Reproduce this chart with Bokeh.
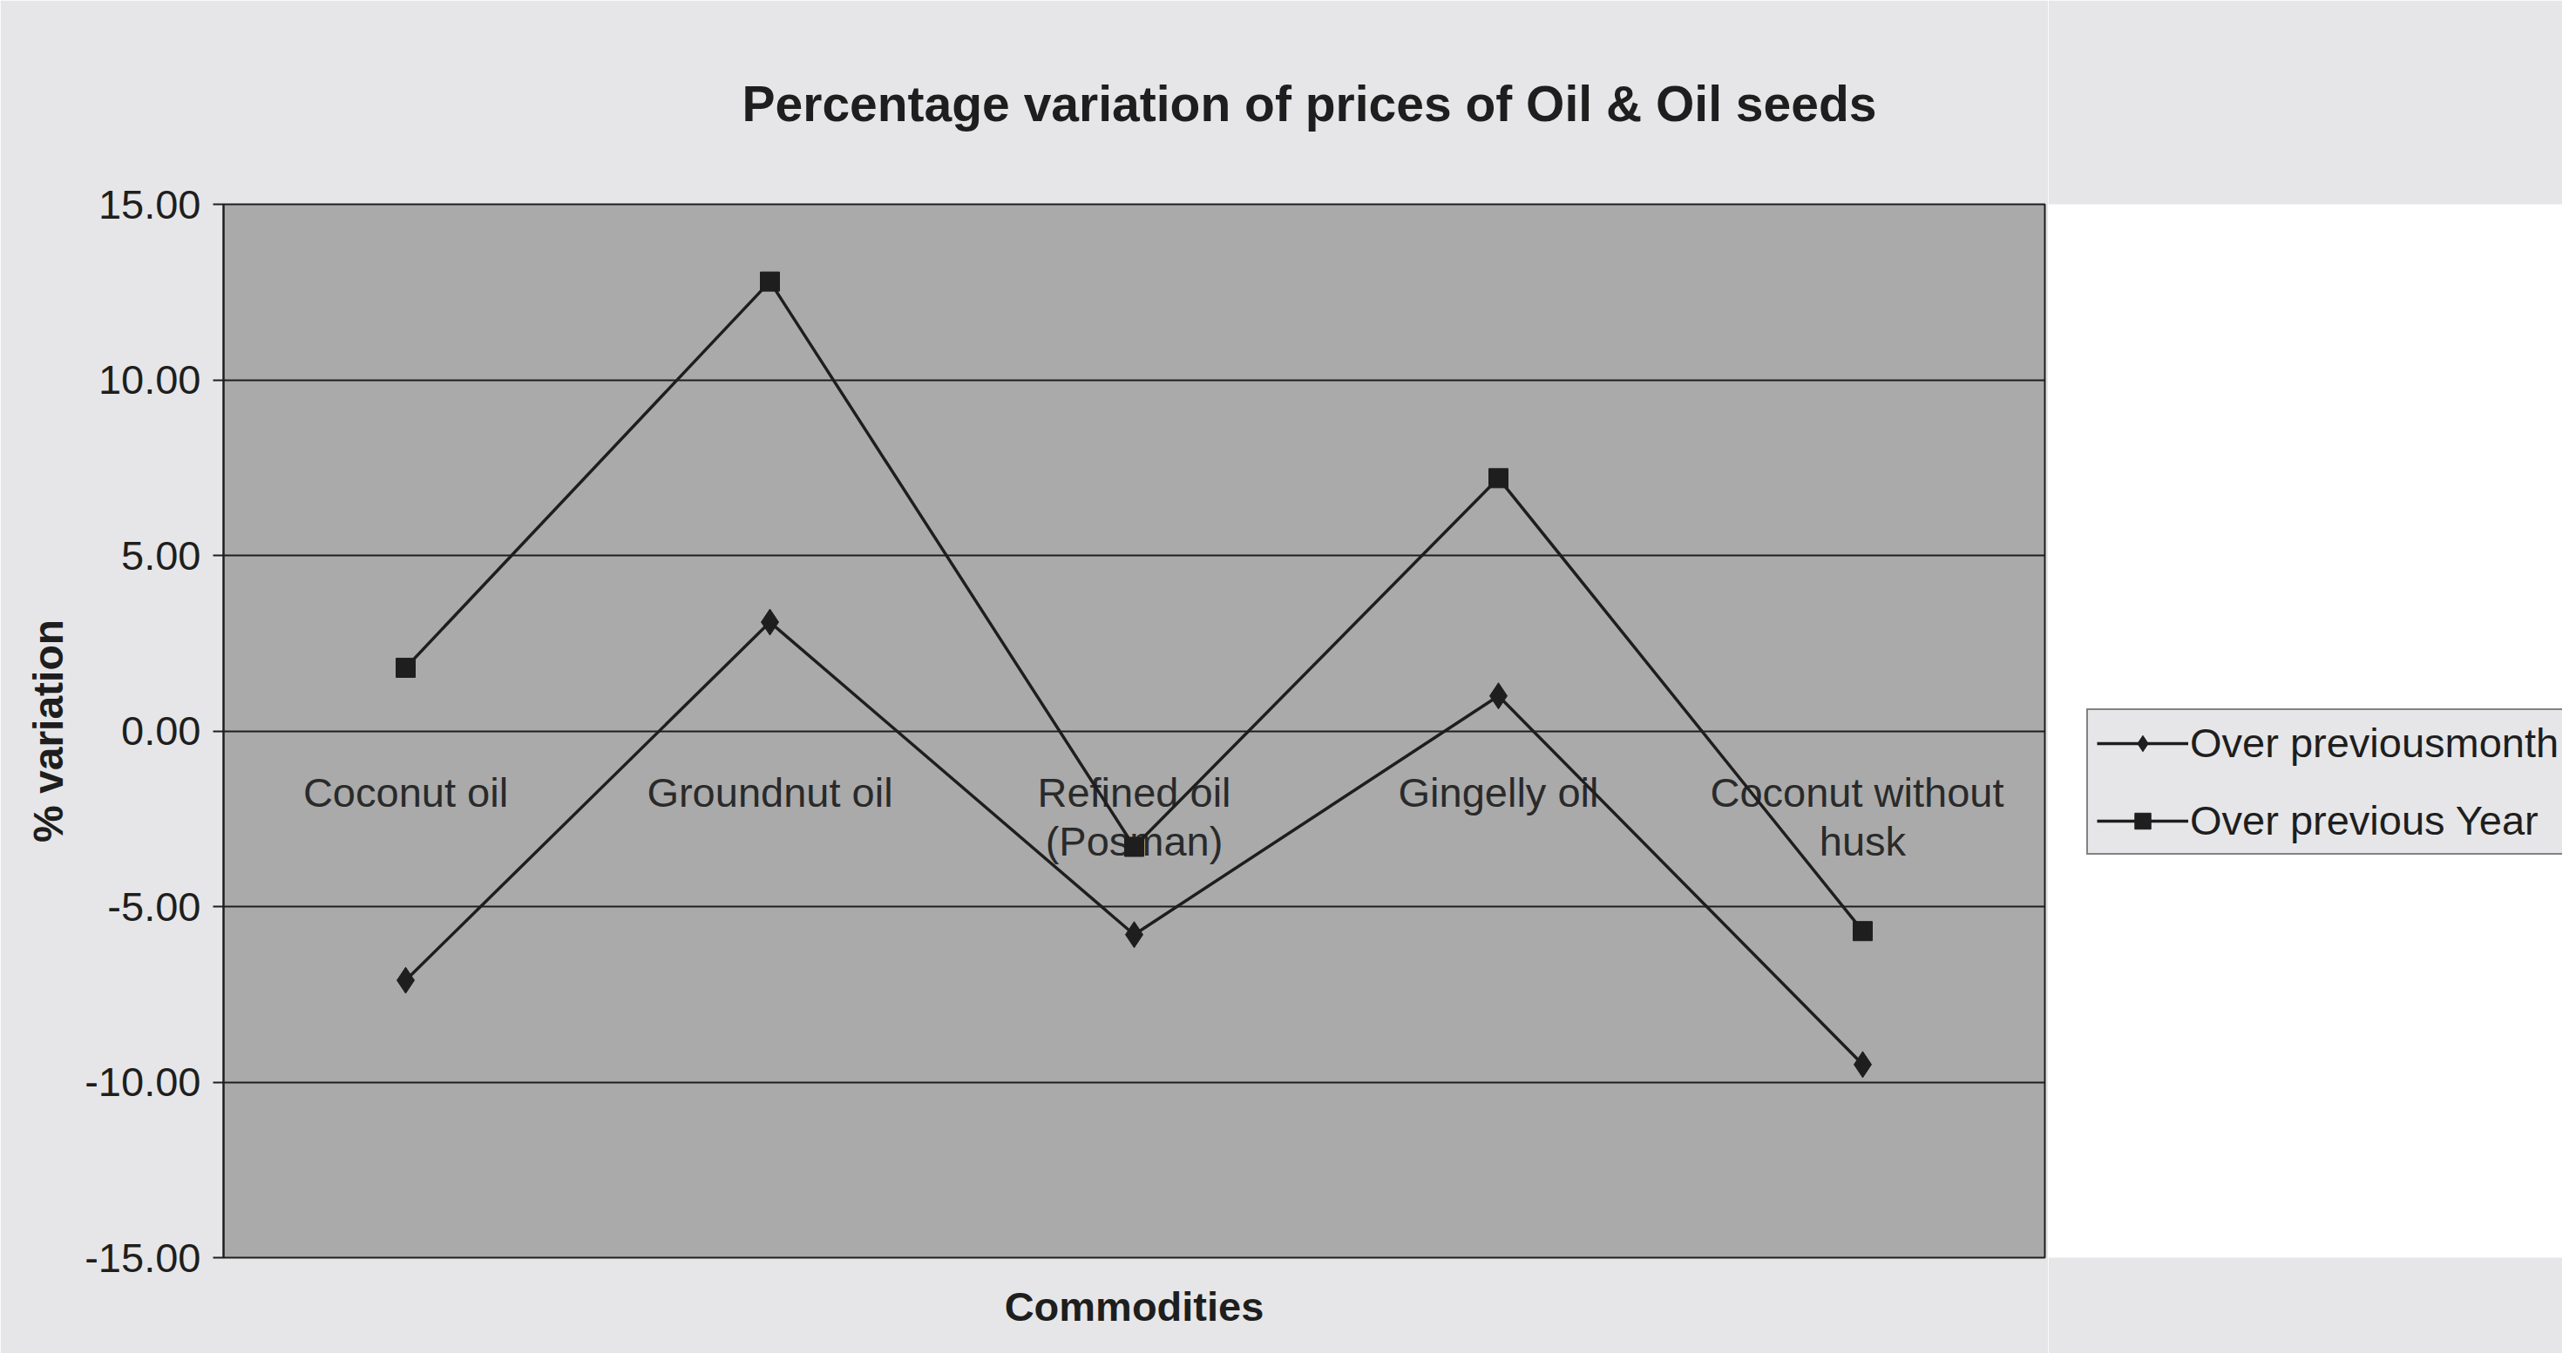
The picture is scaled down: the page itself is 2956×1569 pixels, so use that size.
from bokeh.plotting import figure
from bokeh.layouts import row
from bokeh.models import FactorRange, Range1d, SingleIntervalTicker, NumeralTickFormatter, Legend, LegendItem, ColumnDataSource, Title
from bokeh.core.properties import value
from bokeh.embed import file_html
from bokeh.resources import INLINE

categories = ["Coconut oil", "Groundnut oil", "Refined oil\n(Posman)", "Gingelly oil", "Coconut  without\nhusk"]
over_prev_month = [-7.1, 3.1, -5.8, 1.0, -9.5]
over_prev_year = [1.8, 12.8, -3.3, 7.2, -5.7]
series_names = ["Over previousmonth", "Over previous Year"]
title_text = "Percentage variation of prices of Oil & Oil seeds"
y_title = "% variation"
x_title = "Commodities"

FONT = "Liberation Sans"
PAGE_BG = "#e6e6e8"
PLOT_BG = "#aaaaaa"
INK = "#1e1e1e"

H = 1553
WM, WL = 2350, 590
BL, BR, BT, BB = 256, 4, 232, 110

p = figure(width=WM, height=H, x_range=FactorRange(*categories, range_padding=0),
           y_range=Range1d(-15, 15), output_backend="svg", toolbar_location=None,
           background_fill_color=PLOT_BG, border_fill_color=PAGE_BG,
           min_border_left=BL, min_border_right=BR, min_border_top=BT, min_border_bottom=BB)

p.title.text = title_text
p.title.text_font = FONT
p.title.text_font_size = "57px"
p.title.text_font_style = "bold"
p.title.text_color = INK
p.title.align = "left"
p.title.offset = 595
p.title.standoff = 168

p.add_layout(Title(text=x_title, align="center", text_font=FONT, text_font_size="47px",
                   text_font_style="bold", text_color=INK, standoff=55), "below")

p.outline_line_color = INK
p.outline_line_width = 2

# y axis
p.yaxis.ticker = SingleIntervalTicker(interval=5)
p.yaxis.formatter = NumeralTickFormatter(format="0.00")
p.yaxis.major_label_text_font = FONT
p.yaxis.major_label_text_font_size = "47px"
p.yaxis.major_label_text_color = INK
p.yaxis.major_label_standoff = 14
p.yaxis.major_tick_out = 12
p.yaxis.major_tick_in = 0
p.yaxis.minor_tick_out = 0
p.yaxis.minor_tick_in = 0
p.yaxis.axis_line_color = INK
p.yaxis.axis_line_width = 2
p.yaxis.major_tick_line_color = INK
p.yaxis.major_tick_line_width = 2
p.yaxis.axis_label = y_title
p.yaxis.axis_label_text_font = FONT
p.yaxis.axis_label_text_font_size = "48px"
p.yaxis.axis_label_text_font_style = "bold"
p.yaxis.axis_label_text_color = INK
p.yaxis.axis_label_standoff = 12

p.xaxis.visible = False

p.xgrid.grid_line_color = None
p.ygrid.ticker = SingleIntervalTicker(interval=5)
p.ygrid.grid_line_color = INK
p.ygrid.grid_line_width = 2

# category labels on the zero line
lab_src = ColumnDataSource(dict(x=categories, y=[0] * len(categories), t=categories))
p.text(x="x", y="y", text="t", source=lab_src, text_font=value(FONT), text_font_size="47px",
       text_align="center", text_baseline="top", y_offset=44, text_color="#2a2a2a",
       text_line_height=1.05)

src = ColumnDataSource(dict(x=categories, m=over_prev_month, yv=over_prev_year))
LW, DS, SS = 3.5, 30, 22
p.line("x", "m", source=src, line_color=INK, line_width=LW)
p.scatter("x", "m", source=src, marker="diamond", size=DS, fill_color=INK, line_color=INK)
p.line("x", "yv", source=src, line_color=INK, line_width=LW)
p.scatter("x", "yv", source=src, marker="square", size=SS, fill_color=INK, line_color=INK)

# legend panel on the right (separate figure so it sits outside the plot area)
lf = figure(width=WL, height=H, x_range=Range1d(0, 1), y_range=Range1d(0, 1),
            output_backend="svg", toolbar_location=None, min_border=0,
            background_fill_color=PAGE_BG, background_fill_alpha=0,
            border_fill_color=PAGE_BG, outline_line_color=None)
lf.axis.visible = False
lf.grid.visible = False
nan = float("nan")
proxy = ColumnDataSource(dict(x=[nan], y=[nan]))
g1 = lf.line("x", "y", source=proxy, line_color=INK, line_width=LW)
m1 = lf.scatter("x", "y", source=proxy, marker="diamond", size=DS, fill_color=INK, line_color=INK)
g2 = lf.line("x", "y", source=proxy, line_color=INK, line_width=LW)
m2 = lf.scatter("x", "y", source=proxy, marker="square", size=SS, fill_color=INK, line_color=INK)

legend = Legend(items=[LegendItem(label=series_names[0], renderers=[g1, m1]),
                       LegendItem(label=series_names[1], renderers=[g2, m2])],
                location=(44, 462), orientation="vertical")
legend.label_text_font = FONT
legend.label_text_font_size = "47px"
legend.label_text_color = INK
legend.glyph_width = 105
legend.glyph_height = 46
legend.label_height = 46
legend.label_standoff = 2
legend.spacing = 34
legend.padding = 10
legend.margin = 0
legend.border_line_color = INK
legend.border_line_width = 2
legend.background_fill_color = PAGE_BG
legend.background_fill_alpha = 1
lf.add_layout(legend, "center")

layout = row(p, lf)
open("out.html", "w").write(file_html(layout, INLINE))
